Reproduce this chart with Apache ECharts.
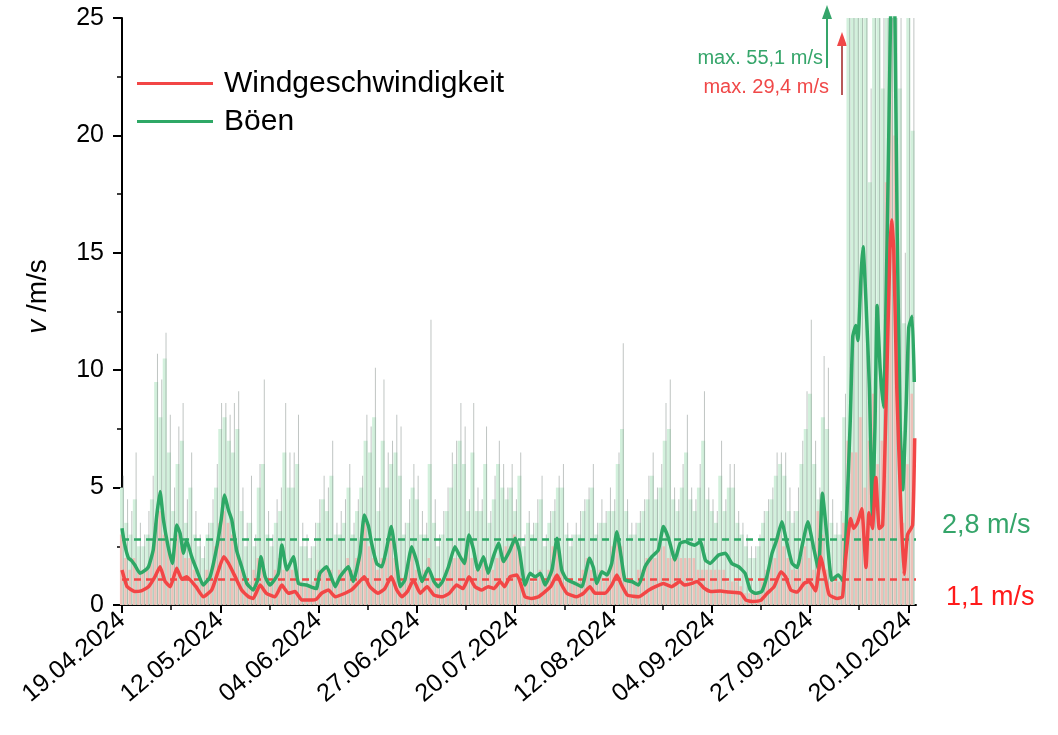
<!DOCTYPE html>
<html><head><meta charset="utf-8">
<script src="https://cdn.jsdelivr.net/npm/echarts@6/dist/echarts.min.js"></script>
<style>html,body{margin:0;padding:0;background:#fff}#c{width:1058px;height:735px}</style>
</head><body><div id="c"></div>
<script>
// ---- data (x = days since 19.04.2024) ----
const startUTC = Date.UTC(2024, 3, 19);
const tickDays = [0, 23, 46, 69, 92, 115, 138, 161, 184];
const minorTickDays = [11.5, 34.5, 57.5, 80.5, 103.5, 126.5, 149.5, 172.5];
const xMaxDay = 185.8;

// daily raw gust peaks (grey spikes)
const gustPeakRaw = [5.5,4.5,4.0,6.5,3.5,3.0,4.0,5.5,10.7,9.6,11.6,8.1,5.0,7.6,8.6,4.5,6.5,4.0,3.0,2.5,
3.5,4.5,6.0,8.6,8.6,8.1,8.6,9.1,5.0,3.5,5.5,3.0,6.0,9.6,4.0,3.0,4.5,5.0,8.6,6.5,
6.5,8.1,3.5,3.0,2.5,3.5,4.5,5.5,5.0,7.0,3.5,4.0,4.5,6.0,3.5,4.5,5.5,8.1,7.6,10.1,
5.0,9.6,6.5,7.0,8.1,7.6,3.5,4.5,6.0,5.5,4.0,3.5,12.15,4.5,3.0,4.0,5.0,6.5,7.0,8.6,
7.6,4.5,8.6,5.0,4.5,7.6,4.0,5.5,7.0,6.0,5.0,6.0,4.5,6.5,3.0,4.0,3.5,4.5,5.5,3.0,
4.0,4.5,5.5,6.0,3.5,3.0,3.5,4.0,4.5,5.0,6.0,3.5,4.5,4.0,5.0,4.5,6.5,11.15,4.5,3.5,
3.5,4.0,4.5,5.5,6.5,5.0,6.0,8.6,9.6,5.0,4.5,6.0,8.1,5.0,4.5,6.0,9.1,5.0,4.5,4.0,
7.0,4.5,6.0,6.0,4.0,3.5,3.0,2.5,2.5,3.0,4.0,4.5,5.0,6.5,6.5,6.5,5.0,4.0,5.0,7.0,
9.1,12.15,7.0,5.0,10.6,10.1,4.5,3.5,4.0,9.0,30,35,28,40,33,22,31,38,26,42,
55.1,45,27,15,30,36];

// daily raw gusts (light green haze)
const gustRaw = [5.0,3.5,3.0,4.5,2.5,2.5,3.0,4.5,9.5,8.0,10.5,6.5,4.0,6.0,7.0,3.5,5.0,3.0,2.5,2.0,
3.0,3.5,5.0,7.5,8.0,7.0,6.5,7.5,4.0,2.5,3.5,2.5,5.0,6.0,3.0,2.5,3.5,4.0,6.5,5.0,
5.0,6.0,2.5,2.5,2.0,2.5,3.5,4.5,4.0,5.5,3.0,3.0,3.5,5.0,3.0,4.0,5.0,7.0,6.5,8.0,
4.0,7.0,5.0,6.0,6.5,5.5,3.0,3.5,5.0,4.5,3.0,3.0,6.0,3.5,2.5,3.0,4.0,5.0,6.0,7.0,
6.0,4.0,6.5,4.0,4.0,6.0,3.5,4.5,6.0,5.0,4.5,5.0,4.0,5.5,2.5,3.5,3.0,3.5,4.5,2.5,
3.5,4.0,5.0,5.0,3.0,2.5,3.0,3.0,4.0,4.5,5.0,3.0,3.5,3.5,4.0,4.0,6.0,7.5,4.0,3.0,
3.0,3.5,4.0,4.5,5.5,4.5,5.0,7.0,7.5,4.5,4.0,5.0,6.5,4.5,4.0,5.0,7.0,4.5,4.0,3.5,
5.5,4.0,5.0,5.0,3.5,3.0,2.5,2.0,2.0,2.5,3.5,4.0,4.5,5.5,6.0,5.5,4.0,3.5,4.0,6.0,
7.5,9.0,6.0,4.5,8.0,7.5,3.5,3.0,3.0,8.0,27,30,26,32,28,18,27,30,22,35,
48,38,22,12,26,20.2];

// daily raw wind speed (pink haze)
const windRaw = [3.0,2.0,1.5,2.0,1.5,1.5,1.5,2.0,3.5,4.0,3.0,2.5,2.0,3.0,2.5,2.0,2.0,1.5,1.0,1.0,
1.5,1.5,2.5,3.5,4.0,3.5,3.0,2.5,1.5,1.0,1.0,1.5,2.0,2.0,1.0,1.0,1.5,2.0,1.5,1.5,
1.5,1.5,1.0,0.8,0.8,1.0,1.5,1.5,1.5,1.5,1.0,1.5,1.5,2.0,1.5,2.0,2.5,3.5,2.5,2.0,
1.5,2.0,2.0,3.0,2.0,1.5,1.0,1.5,2.5,1.5,1.0,1.5,2.0,1.0,1.0,1.0,1.5,2.0,2.0,2.0,
2.0,2.5,2.0,1.5,1.5,2.0,1.5,1.5,2.0,2.0,2.5,2.5,3.0,2.5,1.0,1.0,1.0,1.0,1.5,1.0,
1.5,2.5,2.5,1.5,1.0,1.0,1.0,1.0,1.5,2.0,1.5,1.0,1.5,1.0,1.5,2.5,3.0,2.5,1.0,1.0,
1.0,1.5,1.5,2.0,2.0,2.0,2.5,2.5,2.0,2.0,2.0,2.0,2.0,2.0,2.0,1.5,1.5,1.5,1.5,1.5,
1.5,1.5,1.0,1.0,1.0,0.8,0.5,0.5,0.5,0.5,1.0,1.5,2.0,2.0,3.0,2.5,2.0,1.5,1.5,2.0,
2.5,2.0,1.5,4.0,3.0,1.5,1.0,1.0,1.0,3.5,7.0,6.5,6.5,8.0,5.0,7.0,9.0,6.0,7.0,18,
29.4,20,7.0,3.5,6.0,9.0];

// smoothed gusts [day, m/s]
const gustSmooth = [[0,3.27],[0.6,2.6],[1.5,2.0],[2.2,1.9],[3,1.7],[4.2,1.35],[5.2,1.45],[6.2,1.63],[7.3,2.34],[8.1,3.76],[8.9,4.83],[9.7,3.62],[10.8,2.48],[11.8,1.77],[12.8,3.41],[13.6,3.05],[14.4,2.2],[15.1,2.77],[16.3,2.06],[17.5,1.49],[19,0.85],[20.6,1.2],[22.2,2.48],[23.2,3.62],[24,4.68],[24.9,4.05],[25.7,3.62],[26.8,2.34],[28,1.63],[29.2,0.92],[30.7,0.64],[31.8,1.1],[32.5,2.06],[33.5,1.2],[34.6,0.85],[36.6,1.35],[37.4,2.56],[38.6,1.49],[40.1,2.06],[41.3,0.92],[43.2,0.85],[44.5,0.75],[45.5,0.7],[46.3,1.35],[47.9,1.63],[49.9,0.78],[51,1.2],[52.2,1.49],[53,1.63],[54.1,1.0],[55.7,2.2],[56.7,3.83],[57.7,3.34],[58.4,2.63],[59.6,1.77],[60.8,1.63],[62,2.48],[63,3.34],[63.9,2.34],[65.1,0.78],[66.2,1.06],[67.8,2.48],[69,1.84],[70.2,1.0],[71.7,1.56],[73,1.0],[74,0.78],[75,1.0],[76.4,1.63],[77.9,2.48],[79,2.1],[80.1,1.77],[81.2,2.98],[82.2,2.4],[83.3,1.49],[84.6,2.06],[85.7,1.35],[86.9,2.06],[88.1,2.63],[89.3,1.85],[90.8,2.34],[92,2.84],[93,2.3],[94.3,0.85],[95.5,1.35],[96.7,1.2],[97.9,1.35],[99,0.85],[100.6,1.49],[101.8,2.84],[102.9,1.49],[104,1.1],[106,0.92],[107.6,0.78],[109.4,1.99],[110.3,1.6],[111.1,0.92],[112.3,1.42],[113.5,1.28],[114.6,1.77],[115.8,3.12],[116.8,2.06],[117.7,1.06],[119.3,1.0],[120.9,0.85],[122.4,1.63],[124,2.06],[125.5,2.34],[126.7,3.34],[127.9,2.84],[129.4,1.92],[130.6,2.63],[131.8,2.7],[133,2.6],[134,2.55],[135.3,2.7],[136.5,1.92],[137.6,1.77],[139.6,2.13],[141.2,2.2],[142.7,1.77],[144.3,1.63],[145.8,1.35],[147,0.64],[148.2,0.5],[149.7,0.57],[150.9,1.2],[152.1,2.2],[153.2,2.77],[154.4,3.55],[155.6,2.63],[156.8,1.77],[158,1.6],[159.1,2.48],[160.5,3.55],[161.8,2.48],[163,1.49],[163.9,4.76],[164.9,3.05],[166.1,1.06],[167.6,1.28],[168.8,1.0],[169.5,3.43],[170.4,7.76],[171,11.43],[171.7,11.9],[172.2,11.26],[173,14.26],[173.4,15.26],[174.1,12.9],[174.9,9.26],[175.6,3.76],[176.2,7.6],[176.7,12.76],[177.4,10.1],[178.2,8.43],[179,15.1],[179.5,20.9],[180,26.5],[180.4,27],[180.8,26],[181.4,15.9],[182.1,7.6],[182.7,4.9],[183.5,8.5],[184.1,11.8],[184.9,12.3],[185.4,9.5]];

// smoothed wind speed [day, m/s]
const windSmooth = [[0,1.49],[0.6,1.1],[1.2,0.78],[3,0.57],[4.5,0.6],[6.2,0.78],[7.7,1.2],[8.9,1.63],[10.1,1.0],[11.3,0.78],[12.8,1.56],[14,1.1],[15.1,1.2],[17.3,0.78],[19,0.35],[21,0.64],[22.6,1.49],[23.8,2.06],[24.9,1.78],[26.5,1.2],[28,0.64],[29.6,0.35],[30.7,0.28],[32.3,0.85],[33.8,0.5],[35.8,0.35],[37.4,0.85],[38.9,0.5],[40.5,0.57],[42.1,0.21],[44.5,0.21],[45.5,0.25],[46.7,0.5],[48.3,0.64],[49.9,0.35],[52.2,0.5],[53.7,0.64],[55.2,0.92],[56.7,1.2],[58,0.78],[59.9,0.5],[61.5,0.7],[63,1.2],[64.3,0.64],[65.5,0.35],[66.8,0.57],[68.2,1.06],[69.8,0.5],[71.4,0.78],[73,0.42],[75,0.35],[76.6,0.5],[78.3,0.85],[79.8,0.7],[81.2,1.2],[82.6,0.78],[84.2,0.64],[85.7,0.78],[87,0.7],[88.5,1.0],[89.5,0.78],[90.8,1.2],[92.4,1.28],[93.3,0.9],[94.3,0.35],[95.9,0.28],[97.5,0.35],[100.3,0.78],[101.8,1.28],[102.9,0.85],[104.1,0.5],[106.4,0.35],[108,0.5],[109.5,0.78],[110.7,0.5],[113,0.5],[114.6,0.85],[115.8,1.28],[116.9,0.85],[118.3,0.42],[120.9,0.35],[123.3,0.64],[124.8,0.78],[126.7,0.92],[128.6,0.78],[130.6,1.0],[131.6,0.85],[133,0.9],[134.6,1.0],[136.2,0.72],[137.8,0.57],[140,0.6],[142,0.55],[144.8,0.5],[146,0.21],[147.5,0.15],[149.5,0.2],[151,0.5],[152.6,0.78],[154.2,1.42],[155.3,1.2],[156.5,0.64],[158,0.55],[159.6,0.92],[160.8,1.0],[162.3,0.6],[163.5,2.06],[164.7,1.06],[165.5,0.43],[167.4,0.28],[168.6,0.35],[169.3,1.93],[170.5,3.68],[171.2,3.26],[172.1,3.5],[173.1,4.1],[174.1,1.6],[174.8,3.93],[175.6,3.26],[176.4,5.43],[177.2,3.26],[178,3.4],[178.9,9.26],[179.7,15.1],[180.1,16.4],[180.6,15.1],[181.3,9.26],[182.3,3.93],[183,1.3],[183.8,2.98],[185,3.4],[185.5,7.1]];

const gustMean = 2.8;
const windMean = 1.1;
const gustMax = 55.1;
const windMax = 29.4;

// ---- styling ----
const FONT = '"Liberation Sans", Arial, sans-serif';
const RED = '#f24646';
const GREEN = '#2ea866';
const fmt = v => v.toFixed(1).replace('.', ',');
const pad = n => (n < 10 ? '0' : '') + n;
function dayLabel(d) {
  const dt = new Date(startUTC + d * 86400000);
  return pad(dt.getUTCDate()) + '.' + pad(dt.getUTCMonth() + 1) + '.' + dt.getUTCFullYear();
}

const chart = echarts.init(document.getElementById('c'), null, {renderer: 'canvas'});
const hiddenX = () => ({type: 'value', min: 0, max: xMaxDay, show: false});

chart.setOption({
  animation: false,
  backgroundColor: '#fff',
  grid: {left: 122, right: 142, top: 18, bottom: 130, containLabel: false},
  legend: {
    left: 132, top: 62, orient: 'vertical', itemGap: 5,
    icon: 'rect', itemWidth: 76, itemHeight: 3,
    data: ['Windgeschwindigkeit', 'Böen'],
    textStyle: {fontFamily: FONT, fontSize: 30, color: '#000', lineHeight: 33, padding: [0, 0, 0, 6]}
  },
  xAxis: [
    {
      type: 'value', min: 0, max: xMaxDay, interval: 23,
      axisLine: {show: true, onZero: false, lineStyle: {color: '#000', width: 2}},
      axisTick: {show: true, length: 8, lineStyle: {color: '#000', width: 2}, customValues: tickDays},
      axisLabel: {
        customValues: tickDays, rotate: 40, margin: 12,
        fontFamily: FONT, fontSize: 25, color: '#000',
        formatter: v => dayLabel(v)
      },
      splitLine: {show: false}
    },
    {
      type: 'value', min: 0, max: xMaxDay, position: 'bottom',
      axisLine: {show: false},
      axisTick: {show: true, length: 5, lineStyle: {color: '#000', width: 1.5}, customValues: minorTickDays},
      axisLabel: {show: false},
      splitLine: {show: false}
    },
    hiddenX(), hiddenX(), hiddenX()
  ],
  yAxis: {
    type: 'value', min: 0, max: 25, interval: 5,
    name: '{i|v} /m/s', nameLocation: 'middle', nameGap: 70, nameRotate: 90,
    nameTextStyle: {fontFamily: FONT, fontSize: 28, color: '#000', padding: [0, 0, 0, 30],
      rich: {i: {fontFamily: FONT, fontSize: 28, fontStyle: 'italic', color: '#000'}}},
    axisLine: {show: true, lineStyle: {color: '#000', width: 2}},
    axisTick: {show: true, length: 9, lineStyle: {color: '#000', width: 2}},
    minorTick: {show: true, splitNumber: 2, length: 5, lineStyle: {color: '#000', width: 1.5}},
    axisLabel: {fontFamily: FONT, fontSize: 25, color: '#000', margin: 18},
    splitLine: {show: false}
  },
  series: [
    {
      name: 'gustRaw', type: 'bar', xAxisIndex: 2, barWidth: 4, silent: true, clip: true, z: 1,
      itemStyle: {color: '#d2f0dc'},
      data: gustRaw.map((v, i) => [i, v])
    },
    {
      name: 'gustPeak', type: 'bar', xAxisIndex: 3, barWidth: 1, silent: true, clip: true, z: 2,
      itemStyle: {color: 'rgba(130,140,135,0.5)'},
      data: gustPeakRaw.map((v, i) => [i + 0.3, v])
    },
    {
      name: 'windRaw', type: 'bar', xAxisIndex: 4, barWidth: 2.5, silent: true, clip: true, z: 3,
      itemStyle: {color: 'rgba(255,160,160,0.6)'},
      data: windRaw.map((v, i) => [i - 0.2, v])
    },
    {
      name: 'Böen', type: 'line', xAxisIndex: 0, showSymbol: false, clip: true, z: 5, smooth: 0.15,
      color: GREEN, lineStyle: {color: GREEN, width: 3.5},
      data: gustSmooth,
      markLine: {
        silent: true, symbol: 'none',
        lineStyle: {color: GREEN, type: [7, 5], width: 2.5},
        label: {show: true, position: 'end', distance: 26, formatter: fmt(gustMean) + ' m/s\n ',
          fontFamily: FONT, fontSize: 27, lineHeight: 28, color: '#35a56a'},
        data: [{yAxis: gustMean}]
      }
    },
    {
      name: 'Windgeschwindigkeit', type: 'line', xAxisIndex: 0, showSymbol: false, clip: true, z: 6, smooth: 0.15,
      color: RED, lineStyle: {color: RED, width: 3.5},
      data: windSmooth,
      markLine: {
        silent: true, symbol: 'none',
        lineStyle: {color: RED, type: [7, 5], width: 2.5},
        label: {show: true, position: 'end', distance: 30, formatter: ' \n' + fmt(windMean) + ' m/s',
          fontFamily: FONT, fontSize: 27, lineHeight: 36, color: '#ff1a1a'},
        data: [{yAxis: windMean}]
      }
    }
  ],
  graphic: [
    {type: 'text', right: 1058 - 823, top: 48,
      style: {text: 'max. ' + fmt(gustMax) + ' m/s', fontFamily: FONT, fontSize: 20, fill: '#35a56a', textAlign: 'right'}},
    {type: 'text', right: 1058 - 829, top: 77,
      style: {text: 'max. ' + fmt(windMax) + ' m/s', fontFamily: FONT, fontSize: 20, fill: '#f04848', textAlign: 'right'}},
    {type: 'line', shape: {x1: 827, y1: 68, x2: 827, y2: 16}, style: {stroke: '#35a56a', lineWidth: 2}},
    {type: 'polygon', shape: {points: [[827, 5], [822, 19], [832, 19]]}, style: {fill: '#35a56a'}},
    {type: 'line', shape: {x1: 842, y1: 95, x2: 842, y2: 44}, style: {stroke: '#b85a5a', lineWidth: 2}},
    {type: 'polygon', shape: {points: [[842, 32], [837, 46], [847, 46]]}, style: {fill: '#f04848'}}
  ]
});
</script>
</body></html>
